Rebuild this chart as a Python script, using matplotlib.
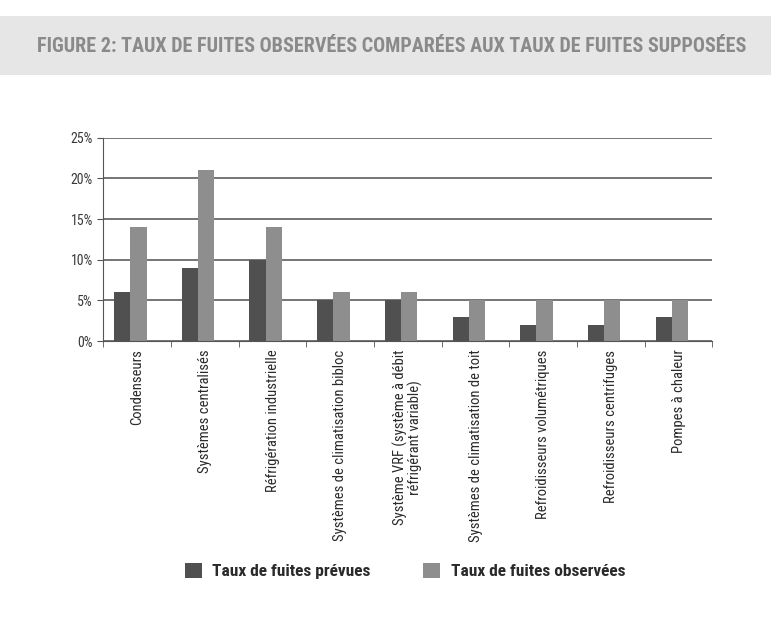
import numpy as np
import matplotlib.pyplot as plt
from matplotlib.patches import Rectangle
from matplotlib.ticker import FuncFormatter

plt.rcParams['font.family'] = ['Roboto Condensed', 'DejaVu Sans']
plt.rcParams['font.stretch'] = 'condensed'

# Données
categories = [
    "Condenseurs",
    "Systèmes centralisés",
    "Réfrigération industrielle",
    "Systèmes de climatisation bibloc",
    "Système VRF (système à débit\nréfrigérant variable)",
    "Systèmes de climatisation de toit",
    "Refroidisseurs volumétriques",
    "Refroidisseurs centrifuges",
    "Pompes à chaleur",
]
taux_prevus = [6, 9, 10, 5, 5, 3, 2, 2, 3]
taux_observes = [14, 21, 14, 6, 6, 5, 5, 5, 5]
y_ticks = [0, 5, 10, 15, 20, 25]

fig = plt.figure(figsize=(7.71, 6.26), dpi=100)

# Bandeau du titre
fig.patches.append(Rectangle((0.0, 0.88), 1.0, 0.095, transform=fig.transFigure,
                             facecolor='#e6e6e6', edgecolor='none', zorder=0))
fig.text(0.508, 0.925,
         "FIGURE 2: TAUX DE FUITES OBSERVÉES COMPARÉES AUX TAUX DE FUITES SUPPOSÉES",
         ha='center', va='center', fontsize=14.5, fontweight='bold', color='#8a8a8a')

ax = fig.add_axes([0.134, 0.455, 0.790, 0.325])
x = np.arange(len(categories))
w = 0.24
ax.bar(x - w / 2 - 0.1, taux_prevus, w, color='#505050', label="Taux de fuites prévues", zorder=2)
ax.bar(x + w / 2 - 0.1, taux_observes, w, color='#8e8e8e', label="Taux de fuites observées", zorder=2)

ax.set_xlim(-0.5, len(categories) - 0.5)
ax.set_ylim(0, 25)
ax.set_yticks(y_ticks)
ax.yaxis.set_major_formatter(FuncFormatter(lambda v, p: f"{v:.0f}%"))
ax.grid(axis='y', color='#6a6a6a', linewidth=1.3, zorder=0)
ax.set_xticks(np.arange(len(categories) + 1) - 0.5, minor=True)
ax.set_xticks(x)
ax.set_xticklabels(categories, rotation=90, va='top', ha='center',
                   fontsize=10.5, color='#2a2a2a', linespacing=1.0)
ax.tick_params(axis='x', which='major', length=0, pad=6)
ax.tick_params(axis='x', which='minor', length=4, color='#555555')
ax.tick_params(axis='y', length=4, color='#555555', labelsize=10, labelcolor='#3a3a3a')
for s in ['top', 'right']:
    ax.spines[s].set_visible(False)
ax.spines['left'].set_color('#555555')
ax.spines['bottom'].set_color('#555555')

ax.legend(loc='center', bbox_to_anchor=(0.495, -1.13), ncol=2, frameon=False,
          prop={'size': 12.5, 'weight': 'bold'}, handlelength=1.0, handleheight=1.0,
          columnspacing=3.0, handletextpad=0.6, labelcolor='#2a2a2a')

fig.savefig("out.png", dpi=100)
